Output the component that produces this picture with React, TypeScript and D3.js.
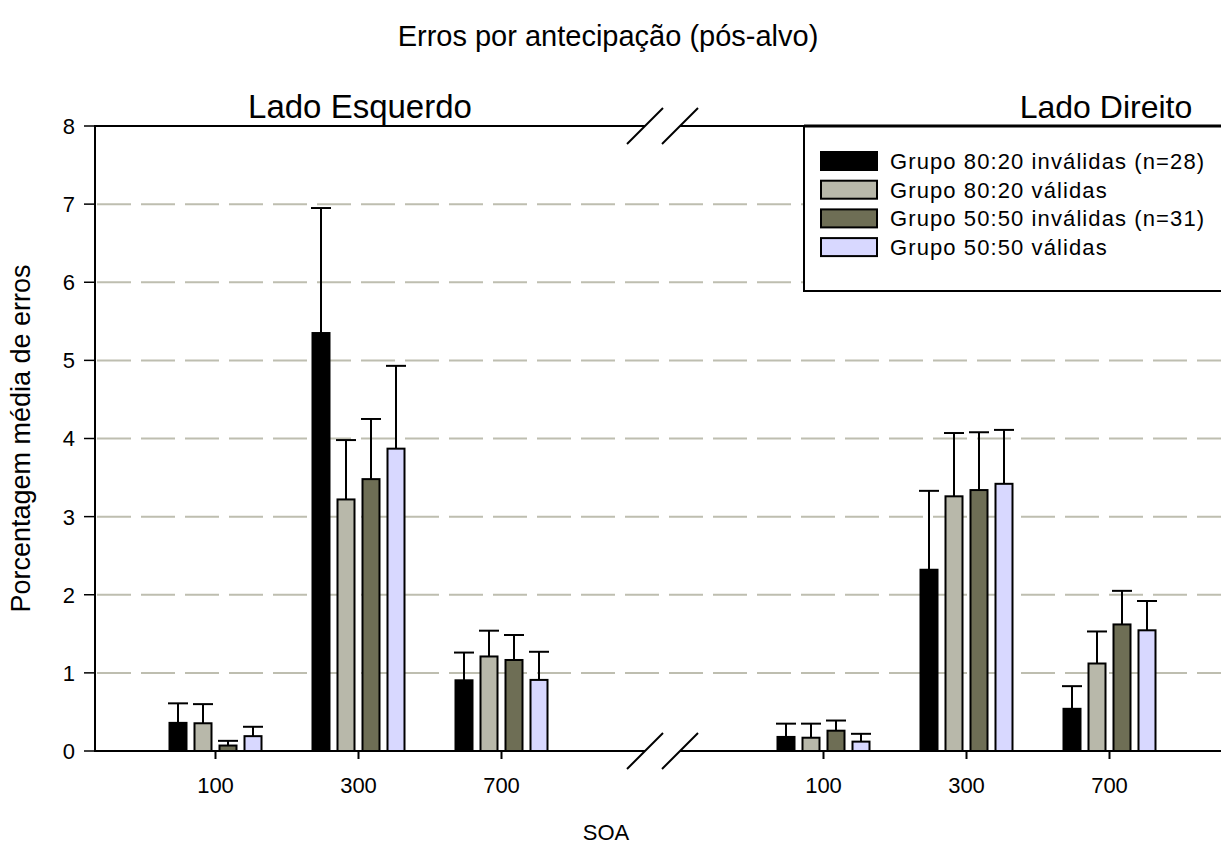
import * as d3 from 'd3'

const soa = ['100', '300', '700']
const seriesNames = [
  'Grupo 80:20 inválidas (n=28)',
  'Grupo 80:20 válidas',
  'Grupo 50:50 inválidas (n=31)',
  'Grupo 50:50 válidas'
]
const seriesColors = ['#000000', '#b8b8aa', '#6e6e55', '#d8d8ff']

// Lado Esquerdo: means and upper error per series (order of soa)
const leftMeans = [
  [0.36, 5.35, 0.905],
  [0.355, 3.22, 1.21],
  [0.07, 3.48, 1.165],
  [0.19, 3.87, 0.91]
]
const leftErr = [
  [0.25, 1.6, 0.355],
  [0.245, 0.76, 0.33],
  [0.06, 0.77, 0.32],
  [0.12, 1.06, 0.36]
]

// Lado Direito
const rightMeans = [
  [0.18, 2.32, 0.54],
  [0.17, 3.26, 1.12],
  [0.26, 3.34, 1.62],
  [0.12, 3.42, 1.545]
]
const rightErr = [
  [0.17, 1.01, 0.29],
  [0.18, 0.81, 0.41],
  [0.13, 0.74, 0.43],
  [0.1, 0.69, 0.375]
]

const yTicks = [0, 1, 2, 3, 4, 5, 6, 7, 8]
const gridTicks = [1, 2, 3, 4, 5, 6, 7]

const W = 1221
const H = 848
const FONT = '"Liberation Sans", Arial, sans-serif'

export default function App() {
  const x0 = 95
  const breakA = 645
  const breakB = 680
  const y = d3.scaleLinear().domain([0, 8]).range([751, 126])

  const xLeft = d3.scaleBand().domain(soa).range([144, 573]).padding(0)
  const xRight = d3.scaleBand().domain(soa).range([752, 1181]).padding(0)
  const xInner = d3.scaleBand().domain(seriesNames).range([-46, 46]).paddingInner(0.32)
  const bw = xInner.bandwidth()

  const panels = [
    { x: xLeft, means: leftMeans, err: leftErr },
    { x: xRight, means: rightMeans, err: rightErr }
  ]

  const yTop = y(8)
  const yBot = y(0)
  const slash = (cx: number, cy: number) =>
    `M${cx - 18},${cy + 18}L${cx + 18},${cy - 18}`

  return (
    <svg width={W} height={H} style={{ position: 'absolute', left: 0, top: 0, background: '#fff' }}
      fontFamily={FONT}>
      {/* gridlines */}
      {gridTicks.map(t => (
        <line key={t} x1={x0} x2={W} y1={y(t)} y2={y(t)}
          stroke="#bebeb0" strokeWidth={2} strokeDasharray="34,10" strokeDashoffset={-2} />
      ))}

      {/* bars */}
      {panels.map((p, pi) => (
        <g key={pi}>
          {soa.map((c, ci) => {
            const cx = (p.x(c) as number) + p.x.bandwidth() / 2
            return seriesNames.map((s, si) => {
              const bx = cx + (xInner(s) as number)
              const m = p.means[si][ci]
              const e = p.err[si][ci]
              return (
                <g key={s}>
                  <line x1={bx + bw / 2} x2={bx + bw / 2} y1={y(m)} y2={y(m + e)} stroke="#000" strokeWidth={2} />
                  <line x1={bx + bw / 2 - 10} x2={bx + bw / 2 + 10} y1={y(m + e)} y2={y(m + e)} stroke="#000" strokeWidth={2} />
                  <rect x={bx} y={y(m)} width={bw} height={yBot - y(m)}
                    fill={seriesColors[si]} stroke="#000" strokeWidth={2} />
                </g>
              )
            })
          })}
          {soa.map(c => {
            const cx = (p.x(c) as number) + p.x.bandwidth() / 2
            return (
              <g key={c}>
                <line x1={cx} x2={cx} y1={yBot} y2={yBot + 8} stroke="#000" strokeWidth={2} />
                <text x={cx} y={yBot + 42} textAnchor="middle" fontSize={22}>{c}</text>
              </g>
            )
          })}
        </g>
      ))}

      {/* axes */}
      <line x1={x0} x2={x0} y1={yTop - 1} y2={yBot + 1} stroke="#000" strokeWidth={2} />
      <line x1={x0} x2={breakA} y1={yTop} y2={yTop} stroke="#000" strokeWidth={2} />
      <line x1={breakB} x2={W} y1={yTop} y2={yTop} stroke="#000" strokeWidth={2} />
      <line x1={x0} x2={breakA} y1={yBot} y2={yBot} stroke="#000" strokeWidth={2} />
      <line x1={breakB} x2={W} y1={yBot} y2={yBot} stroke="#000" strokeWidth={2} />
      {[yTop, yBot].map(yy => (
        <g key={yy}>
          <path d={slash(breakA, yy)} stroke="#000" strokeWidth={2} />
          <path d={slash(breakB, yy)} stroke="#000" strokeWidth={2} />
        </g>
      ))}
      {yTicks.map(t => (
        <g key={t}>
          <line x1={x0 - 11} x2={x0} y1={y(t)} y2={y(t)} stroke="#000" strokeWidth={1.5} />
          <text x={x0 - 20} y={y(t)} dy="0.36em" textAnchor="end" fontSize={22}>{t}</text>
        </g>
      ))}

      {/* titles */}
      <text x={608} y={46} textAnchor="middle" fontSize={29}>Erros por antecipação (pós-alvo)</text>
      <text x={360} y={118} textAnchor="middle" fontSize={33}>Lado Esquerdo</text>
      <text x={1106} y={118} textAnchor="middle" fontSize={32}>Lado Direito</text>
      <text x={606} y={840} textAnchor="middle" fontSize={22}>SOA</text>
      <text transform={`translate(30,${y(4)}) rotate(-90)`} textAnchor="middle" fontSize={27}>
        Porcentagem média de erros
      </text>

      {/* legend */}
      <rect x={804} y={126} width={W} height={165} fill="#fff" stroke="#000" strokeWidth={2} />
      <line x1={804} x2={W} y1={126} y2={126} stroke="#000" strokeWidth={3} />
      {seriesNames.map((s, i) => (
        <g key={s} transform={`translate(0,${161 + i * 28.7})`}>
          <rect x={821} y={-9} width={56} height={18} fill={seriesColors[i]} stroke="#000" strokeWidth={2} />
          <text x={890} y={0} dy="0.36em" fontSize={22} letterSpacing={1.1}>{s}</text>
        </g>
      ))}
    </svg>
  )
}
